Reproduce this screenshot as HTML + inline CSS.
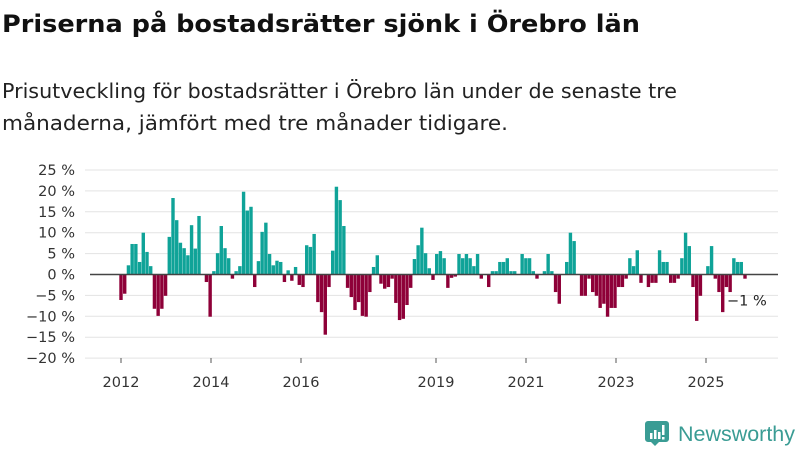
<!DOCTYPE html>
<html><head><meta charset="utf-8">
<style>
body{margin:0;width:800px;height:450px;background:#fff;font-family:"DejaVu Sans","Liberation Sans",sans-serif;overflow:hidden}
svg{position:absolute;left:0;top:0}
</style></head>
<body>
<svg id="chart" width="800" height="450">
<text x="2" y="32" font-size="24" font-weight="bold" fill="#111" textLength="638" lengthAdjust="spacingAndGlyphs">Priserna på bostadsrätter sjönk i Örebro län</text>
<text x="2" y="98" font-size="20" fill="#222" textLength="675" lengthAdjust="spacingAndGlyphs">Prisutveckling för bostadsrätter i Örebro län under de senaste tre</text>
<text x="2" y="130" font-size="20" fill="#222" textLength="506" lengthAdjust="spacingAndGlyphs">månaderna, jämfört med tre månader tidigare.</text>
<g id="grid"></g>
<g id="bars"></g>
<g id="axes"></g>
<g>
<path d="M648 421h18a3 3 0 0 1 3 3v15a3 3 0 0 1-3 3h-7l-4 4-4-4h-3a3 3 0 0 1-3-3v-15a3 3 0 0 1 3-3z" fill="#3a9c94"/>
<rect x="650" y="433" width="2.5" height="6" fill="#fff"/><rect x="654" y="430" width="2.5" height="9" fill="#fff"/><rect x="658" y="432" width="2.5" height="7" fill="#fff"/><rect x="662" y="425" width="2.5" height="10" fill="#fff"/><rect x="662" y="437" width="2.5" height="2.5" fill="#fff"/>
<text x="678" y="441" font-size="21" font-family="Liberation Sans, sans-serif" fill="#3a9c94" textLength="117" lengthAdjust="spacingAndGlyphs">Newsworthy</text>
</g>
</svg>
<script>
const values = [-6.1,-4.6,2.2,7.3,7.3,3,10,5.4,2,-8.2,-9.9,-8.2,-5.1,9,18.3,13,7.6,6.3,4.6,11.8,6.2,14,0,-1.8,-10.1,0.8,5.1,
11.6,6.3,3.9,-1,0.8,2,19.8,15.3,16.2,-3,3.2,10.2,12.4,4.9,2.2,3.3,3,-1.8,1,-1.5,1.8,-2.5,-3,7,6.6,9.7,-6.6,-9,
-14.4,-3,5.7,21,17.8,11.6,-3.2,-5.4,-8.5,-6.6,-9.9,-10.1,-4.2,1.8,4.6,-2.2,-3.4,-3,-1,-6.8,-10.9,-10.6,-7.3,-3.2,3.7,7,11.2,5.1,
1.5,-1.3,4.9,5.6,3.9,-3.2,-0.8,-0.5,4.9,3.9,4.9,3.9,2,4.9,-1,0,-3,0.8,0.8,3,3,3.9,0.8,0.8,0,4.9,3.9,3.9,0.8,
-1,0,0.8,4.9,0.8,-4.2,-7,0,3,10,8,0,-5.1,-5.1,-1,-4.2,-5.1,-8,-7,-10.1,-8,-8,-3,-3,-1,3.9,2,5.8,
-2,0,-3,-2,-2,5.8,3,3,-2,-2,-1,3.9,10,6.8,-3,-11.1,-5.1,0,2,6.8,-1,-4.2,-9,-3,-4.2,3.9,3,3,-1];
const yTicks = [25,20,15,10,5,0,-5,-10,-15,-20];
const yearLabels = [2012,2014,2016,2019,2021,2023,2025];
const startYear = 2012;
const lastLabel = "−1 %";

const NS="http://www.w3.org/2000/svg";
const y0=274.5, pxPer=4.18;
function y(v){return y0 - v*pxPer;}
const xFirst=121, xLast=745;
const step=(xLast-xFirst)/(values.length-1);
function x(i){return xFirst + i*step;}
function xYear(yr){return 121 + (yr-startYear)*45;}
function mk(tag,attrs,parent){const e=document.createElementNS(NS,tag);for(const k in attrs)e.setAttribute(k,attrs[k]);parent.appendChild(e);return e;}
const grid=document.getElementById('grid'), bars=document.getElementById('bars'), axes=document.getElementById('axes');
yTicks.forEach(t=>{
  if(t!==0){const l=mk('line',{x1:85,x2:778,y1:y(t),y2:y(t),stroke:'#e3e3e3','stroke-width':1},grid);
  
  }
  const tx=mk('text',{x:75,y:y(t)+5,'text-anchor':'end','font-size':14.5,fill:'#333'},axes);
  tx.textContent=(t<0?'−'+(-t):t)+' %';
  
  
});
values.forEach((v,i)=>{
  const top=Math.min(y(v),y0), h=Math.abs(y(v)-y0);
  const r=mk('rect',{x:x(i)-1.7,y:top,width:3.4,height:h,fill:v>=0?'#0fa398':'#8e0038'},bars);
  
  
});
const z=mk('line',{x1:90,x2:778,y1:y0,y2:y0,stroke:'#444','stroke-width':1.5},axes);


yearLabels.forEach(yr=>{
  const xi=xYear(yr);
  const tk=mk('line',{x1:xi,x2:xi,y1:358,y2:363,stroke:'#555','stroke-width':1},axes);
  
  
  const tx=mk('text',{x:xi,y:387,'text-anchor':'middle','font-size':14.5,fill:'#333'},axes);
  tx.textContent=yr;
  
  
});
const li=values.length-1;
const lab=mk('text',{x:x(li)-18,y:y(values[li])+27,'font-size':14.5,fill:'#222'},axes);
lab.textContent=lastLabel;


</script>
</body></html>
